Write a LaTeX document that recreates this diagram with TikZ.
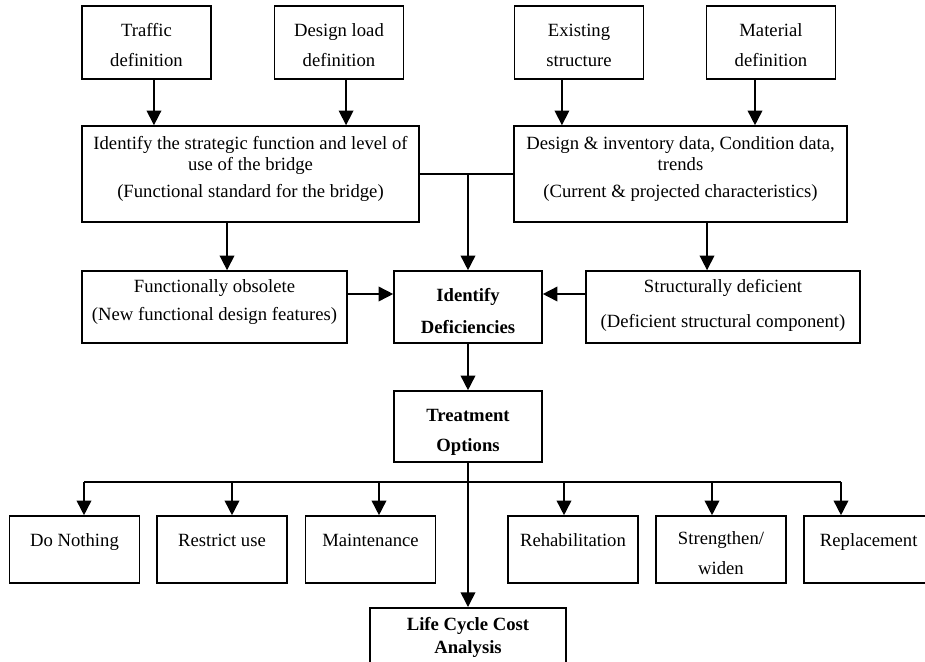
\documentclass[tikz,border=0pt]{standalone}
\usepackage{fontspec}
\setmainfont{Liberation Serif}
\usetikzlibrary{arrows.meta, positioning}

\newcommand{\boxtext}[2]{\raisebox{#1}[\height][\depth]{\begin{tabular}{@{}c@{}}#2\end{tabular}}}

\begin{document}
\begin{tikzpicture}[x=0.75pt, y=-0.75pt,
  box/.style={draw, line width=1.2pt, inner sep=0pt, font=\fontsize{14}{17}\selectfont},
  keybox/.style={box, font=\fontsize{14}{17}\selectfont\bfseries},
  topbox/.style={box, minimum width=96.75pt, minimum height=54.75pt},
  optbox/.style={box, minimum width=97.5pt, minimum height=50.25pt},
  arrow/.style={-{Triangle[length=11pt, width=11pt]}, line width=1.2pt}]
  \useasboundingbox (0,0) rectangle (925,661);
  \clip (0,0) rectangle (925,661);

  % Input boxes
  \node[topbox] (traffic) at (146.5,42.5) {\boxtext{-3.5pt}{Traffic\\[5.5pt]definition}};
  \node[topbox] (load) at (339,42.5) {\boxtext{-3.5pt}{Design load\\[5.5pt]definition}};
  \node[topbox] (exist) at (579,42.5) {\boxtext{-3.5pt}{Existing\\[5.5pt]structure}};
  \node[topbox] (material) at (771,42.5) {\boxtext{-3.5pt}{Material\\[5.5pt]definition}};

  % Function and condition
  \node[box, minimum width=252.75pt, minimum height=72pt] (ident) at (250.5,174)
    {\boxtext{4pt}{Identify the strategic function and level of\\[-1pt]use of the bridge\\[3pt](Functional standard for the bridge)}};
  \node[box, minimum width=249.75pt, minimum height=72pt] (design) at (680.5,174)
    {\boxtext{4pt}{Design \& inventory data, Condition data,\\[-1pt]trends\\[3pt](Current \& projected characteristics)}};

  % Deficiencies
  \node[box, minimum width=198.75pt, minimum height=54pt] (fobs) at (214.5,307)
    {\boxtext{3.5pt}{Functionally obsolete\\[4pt](New functional design features)}};
  \node[keybox, minimum width=111pt, minimum height=54pt] (defic) at (468,307)
    {\boxtext{-4.5pt}{Identify\\[7pt]Deficiencies}};
  \node[box, minimum width=205.5pt, minimum height=54pt] (sdef) at (723,307)
    {\boxtext{1pt}{Structurally deficient\\[9pt](Deficient structural component)}};

  % Treatment
  \node[keybox, minimum width=111pt, minimum height=53.25pt] (treat) at (468,426.5)
    {\boxtext{-4.3pt}{Treatment\\[5.5pt]Options}};

  % Options
  \node[optbox] (nothing) at (74.5,549.5) {\boxtext{5.5pt}{Do Nothing}};
  \node[optbox] (restrict) at (222,549.5) {\boxtext{5.5pt}{Restrict use}};
  \node[optbox] (maint) at (370.5,549.5) {\boxtext{5.5pt}{Maintenance}};
  \node[optbox] (rehab) at (573,549.5) {\boxtext{5.5pt}{Rehabilitation}};
  \node[optbox] (stren) at (721,549.5) {\boxtext{-4pt}{Strengthen/\\[6pt]widen}};
  \node[optbox] (replace) at (868.7,549.5) {\boxtext{5.5pt}{Replacement}};

  \node[keybox, anchor=north, minimum width=147pt, minimum height=60pt] (lcca) at (468,607)
    {\boxtext{7.8pt}{Life Cycle Cost\\Analysis}};

  % Connectors
  \foreach \a/\b/\s in {traffic/ident/5.6pt, load/ident/5.3pt, exist/design/-12.8pt,
      material/design/-12pt, ident/fobs/-17.6pt, design/sdef/19.9pt}
    \draw[arrow] ([xshift=\s]\a.south) -- ([xshift=\s]\a.south |- \b.north);

  \draw[line width=1.2pt] (ident.east) -- (design.west);
  \coordinate (join) at (defic.north |- ident.east);
  \draw[arrow] (join) -- (defic.north);

  \draw[arrow] ([yshift=9.75pt]fobs.east) -- ([yshift=9.75pt]fobs.east -| defic.west);
  \draw[arrow] ([yshift=9.75pt]sdef.west) -- ([yshift=9.75pt]sdef.west -| defic.east);

  \draw[arrow] (defic.south) -- (treat.north);
  \draw[arrow] (treat.south) -- (lcca.north);

  \foreach \n/\x [count=\i] in {nothing/84, restrict/232, maint/379, rehab/564, stren/712, replace/841} {
    \coordinate (b\i) at (\x,482);
    \draw[arrow] (b\i) -- (b\i |- \n.north);
  }
  \draw[line width=1.2pt] (b1) -- (b6);
\end{tikzpicture}
\end{document}
